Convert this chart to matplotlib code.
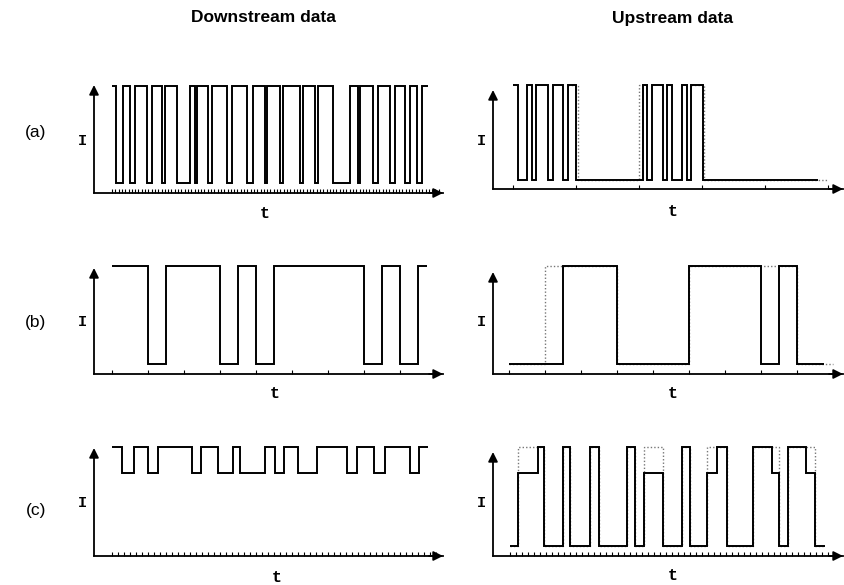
import matplotlib
matplotlib.use("Agg")
import matplotlib.pyplot as plt

# Current levels (relative to full scale)
LEVEL = {"H": 1.0, "L": 0.09, "M": 0.76}

# ---------------- Downstream (a): fast random data ----------------
DS_A_EDGES = [0, 1.1, 3.4, 5.5, 7, 10.5, 12, 15, 16, 19.6, 23.6, 25.2, 25.7, 29.2,
              30.2, 34.8, 36.3, 40.8, 42.8, 46.4, 46.9, 50.9, 51.9, 57, 58, 61.5,
              62.5, 67, 72.1, 74.6, 75.2, 79.2, 80.7, 84.2, 85.8, 88.8, 90.3, 92.3,
              93.8, 95.8]
DS_A_STATES = "HLHLHLHLHLHLHLHLHLHLHLHLHLHLHLHLHLHLHLH"

# ---------------- Upstream (a): bursty data ----------------
US_A_EDGES = [0, 1.27, 3.55, 4.82, 5.84, 8.88, 10.15, 12.69, 13.96, 16.0,
              33.0, 34.0, 35.3, 38.1, 39.1, 40.4, 42.9, 44.2, 45.2, 48.2, 77.4]
US_A_STATES = "HLHLHLHLHLHLHLHLHLHL"
US_A_IDEAL = [([13.96, 16.4, 32.0, 33.0], "HLH"),
              ([45.2, 48.6, 80.0], "HL")]

# ---------------- (b): slow data ----------------
DS_B_EDGES = [0, 2, 3, 6, 7, 8, 9, 14, 15, 16, 17, 17.5]
DS_B_STATES = "HLHLHLHLHLH"
US_B_EDGES = [0, 3, 6, 10, 14, 15, 16, 17.5]
US_B_STATES = "LHLHLHL"
US_B_IDEAL = [([0, 2, 6, 10, 16, 18], "LHLHL")]

# ---------------- (c): multilevel data ----------------
DS_C_EDGES = [0, 1.7, 3.6, 6.05, 7.7, 13.3, 14.9, 17.7, 20.2, 21.3, 25.5, 27.2,
              28.6, 31, 34.1, 39.1, 40.8, 43.7, 45.5, 49.7, 51.2, 52.7]
DS_C_STATES = "HMHMHMHMHMHMHMHMHMHMH"
US_C_EDGES = [0, 1.33, 4.67, 5.67, 8.83, 10, 13.33, 14.75, 19.5, 20.83, 22.33,
              25.5, 28.67, 30, 32.83, 34.5, 36.17, 40.5, 43.67, 44.83, 46.33,
              49.33, 50.83, 52.5]
US_C_STATES = "LMHLHLHLHLMLHLMHLHMLHML"
US_C_IDEAL = [([0, 1.33, 5.67, 8.83, 10, 13.33, 14.75, 19.5, 20.83, 22.33,
                25.5, 28.67, 30, 32.83, 36.17, 40.5, 44.83, 46.33, 50.83, 52.5],
               "LHLHLHLHLHLHLHLHLHL")]

W, H = 844, 585
fig = plt.figure(figsize=(W / 100, H / 100), dpi=100)

MONO = ["Liberation Mono", "DejaVu Sans Mono"]
SANS = ["Liberation Sans", "DejaVu Sans"]


def levels(states):
    return [LEVEL[s] for s in states]


def make_panel(box, t0, unit, y_high, ticks):
    """box = (x_left, y_top, x_right, y_base) in figure pixels."""
    xl, yt, xr, yb = box
    ax = fig.add_axes([xl / W, 1 - yb / H, (xr - xl) / W, (yb - yt) / H])
    ax.set_xlim((xl - t0) / unit, (xr - t0) / unit)
    ax.set_ylim(0, (yb - yt) / (yb - y_high))
    for s in ("top", "right", "left"):
        ax.spines[s].set_visible(False)
    ax.spines["bottom"].set_linewidth(1.3)
    ax.set_yticks([])
    ax.set_xticks(ticks)
    ax.tick_params(axis="x", direction="in", length=3, width=0.8,
                   labelbottom=False, pad=0)
    ax.annotate("", xy=(1.0, 0), xytext=(0.96, 0), xycoords="axes fraction",
                arrowprops=dict(arrowstyle="-|>", color="black", lw=1.3,
                                mutation_scale=14, shrinkA=0, shrinkB=0))
    ax.annotate("", xy=(0, 1.0), xytext=(0, 0), xycoords="axes fraction",
                arrowprops=dict(arrowstyle="-|>", color="black", lw=1.3,
                                mutation_scale=14, shrinkA=0, shrinkB=0))
    ax.patch.set_alpha(0)
    return ax


def draw(ax, edges, states, ideal=()):
    for e, s in ideal:
        ax.stairs(levels(s), e, color="#777777", lw=1.0,
                  linestyle=(0, (1, 1.5)), baseline=None, clip_on=False)
    ax.stairs(levels(states), edges, color="black", lw=1.4, baseline=None,
              clip_on=False)


def frange(a, b, step):
    out = []
    v = a
    while v <= b + 1e-9:
        out.append(v)
        v += step
    return out


# (a)
ax = make_panel((94, 85, 443, 193), 112, 3.3, 86, frange(0, 99, 1))
draw(ax, DS_A_EDGES, DS_A_STATES)
ax = make_panel((493, 90, 843, 189), 513, 3.94, 85, frange(0, 80, 16))
draw(ax, US_A_EDGES, US_A_STATES, ideal=US_A_IDEAL)

# (b)
ax = make_panel((94, 268, 443, 374), 112, 18, 266, frange(0, 16, 2))
draw(ax, DS_B_EDGES, DS_B_STATES)
ax = make_panel((493, 272, 843, 374), 509, 18, 266, frange(0, 18, 2))
draw(ax, US_B_EDGES, US_B_STATES, ideal=US_B_IDEAL)

# (c)
ax = make_panel((94, 448, 443, 556), 112, 6, 447, frange(0, 54, 1))
draw(ax, DS_C_EDGES, DS_C_STATES)
ax = make_panel((493, 452, 843, 556), 510, 6, 447, frange(0, 53, 1))
draw(ax, US_C_EDGES, US_C_STATES, ideal=US_C_IDEAL)


def ftext(x, y, s, **kw):
    fig.text(x / W, 1 - y / H, s, ha="center", va="center", **kw)


ftext(263, 18, "Downstream data", family=SANS, weight="bold", fontsize=12.5)
ftext(673, 18, "Upstream data", family=SANS, weight="bold", fontsize=12.5)
for lab, y in (("(a)", 133), ("(b)", 323), ("(c)", 510)):
    ftext(36, y, lab, family=SANS, fontsize=12.5)
for y in (141, 322, 503):
    ftext(82, y, "I", family=MONO, weight="bold", fontsize=11)
    ftext(481, y, "I", family=MONO, weight="bold", fontsize=11)
for x, y in ((265, 214), (673, 212), (275, 393), (673, 393), (277, 577), (673, 576)):
    ftext(x, y, "t", family=MONO, weight="bold", fontsize=12)

fig.savefig("out.png", dpi=100)
